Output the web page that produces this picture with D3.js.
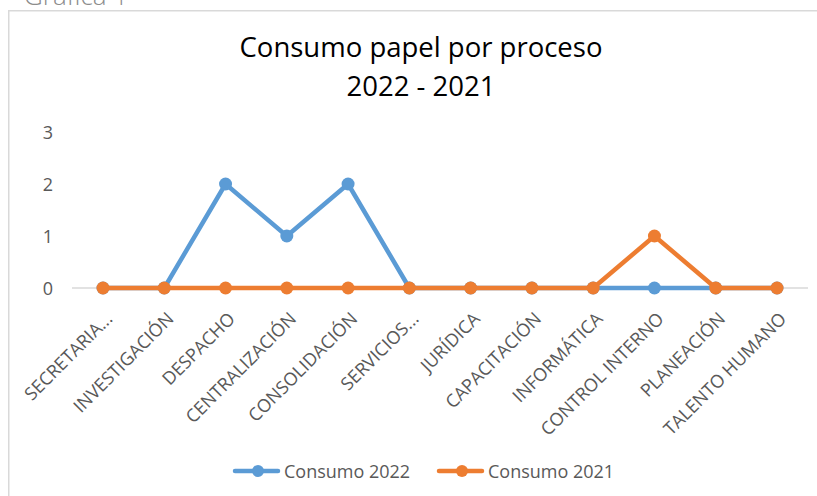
<!DOCTYPE html>
<html>
<head>
<meta charset="utf-8">
<script src="https://cdn.jsdelivr.net/npm/d3@7"></script>
<style>
  body { margin: 0; background: #fff; overflow: hidden; }
  svg { display: block; }
  svg text { font-family: "Open Sans", sans-serif; }
</style>
</head>
<body>
<svg id="chart" width="817" height="496"></svg>
<script>
let categories = ["SECRETARIA...", "INVESTIGACIÓN", "DESPACHO", "CENTRALIZACIÓN", "CONSOLIDACIÓN",
    "SERVICIOS...", "JURÍDICA", "CAPACITACIÓN", "INFORMÁTICA", "CONTROL INTERNO", "PLANEACIÓN", "TALENTO HUMANO"];
let consumo2022 = [0, 0, 2, 1, 2, 0, 0, 0, 0, 0, 0, 0];
let consumo2021 = [0, 0, 0, 0, 0, 0, 0, 0, 0, 1, 0, 0];
let seriesNames = ["Consumo 2022", "Consumo 2021"];
let yTicks = [0, 1, 2, 3];

let svg = d3.select("#chart");

// chart frame (only top and left edges fall inside the picture)
svg.append("path")
    .attr("d", "M8.75,500 V10.75 H817")
    .attr("fill", "none")
    .attr("stroke", "#d9d9d9")
    .attr("stroke-width", 1.5);

svg.append("text")
    .attr("x", 24).attr("y", 5)
    .attr("fill", "#8c8c8c")
    .style("font-size", "26px")
    .style("font-weight", 300)
    .text("Gráfica 1");

svg.append("text")
    .attr("x", 421).attr("y", 57)
    .attr("text-anchor", "middle")
    .attr("fill", "#000")
    .style("font-size", "27.5px")
    .text("Consumo papel por proceso");

svg.append("text")
    .attr("x", 421).attr("y", 96)
    .attr("text-anchor", "middle")
    .attr("fill", "#000")
    .style("font-size", "27.5px")
    .text("2022 - 2021");

let x = d3.scalePoint()
    .domain(categories)
    .range([103, 777]);

let y = d3.scaleLinear()
    .domain([0, 3])
    .range([288, 132]);

// y labels, no axis line
let yAxis = svg.append("g")
    .attr("transform", "translate(53,0)")
    .call(d3.axisLeft(y).tickValues(yTicks).tickSize(0).tickPadding(0).tickFormat(d3.format("d")));
yAxis.select(".domain").remove();
yAxis.selectAll("text")
    .attr("fill", "#595959")
    .attr("dy", "0.36em")
    .style("font-size", "18px");

// x axis: line across plot, rotated labels
svg.append("line")
    .attr("x1", 72).attr("x2", 808)
    .attr("y1", y(0)).attr("y2", y(0))
    .attr("stroke", "#d9d9d9")
    .attr("stroke-width", 1.5);

let xAxis = svg.append("g")
    .attr("transform", `translate(0, ${y(0)})`)
    .call(d3.axisBottom(x).tickSize(0));
xAxis.select(".domain").remove();
xAxis.selectAll("text")
    .attr("fill", "#595959")
    .style("font-size", "18px")
    .attr("text-anchor", "end")
    .attr("dy", null)
    .attr("x", 0)
    .attr("y", 0)
    .attr("transform", "translate(10,32) rotate(-45)");

let colors = ["#5b9bd5", "#ed7d31"];
let allSeries = [consumo2022, consumo2021];

let line = d3.line()
    .x((d, i) => x(categories[i]))
    .y(d => y(d));

allSeries.forEach(function(vals, k) {
    svg.append("path")
        .datum(vals)
        .attr("fill", "none")
        .attr("stroke", colors[k])
        .attr("stroke-width", 4.5)
        .attr("stroke-linejoin", "round")
        .attr("d", line);
    svg.selectAll(".dot" + k)
        .data(vals)
        .join("circle")
        .attr("cx", (d, i) => x(categories[i]))
        .attr("cy", d => y(d))
        .attr("r", 6.5)
        .attr("fill", colors[k]);
});

// legend
let legendX = [233, 437];
seriesNames.forEach(function(name, k) {
    let g = svg.append("g").attr("transform", `translate(${legendX[k]}, 471)`);
    g.append("line")
        .attr("x1", 2).attr("x2", 45)
        .attr("stroke", colors[k])
        .attr("stroke-width", 4.5)
        .attr("stroke-linecap", "round");
    g.append("circle")
        .attr("cx", 25).attr("r", 6)
        .attr("fill", colors[k]);
    g.append("text")
        .attr("x", 51).attr("y", 6.5)
        .attr("fill", "#595959")
        .style("font-size", "18px")
        .text(name);
});
</script>
</body>
</html>
